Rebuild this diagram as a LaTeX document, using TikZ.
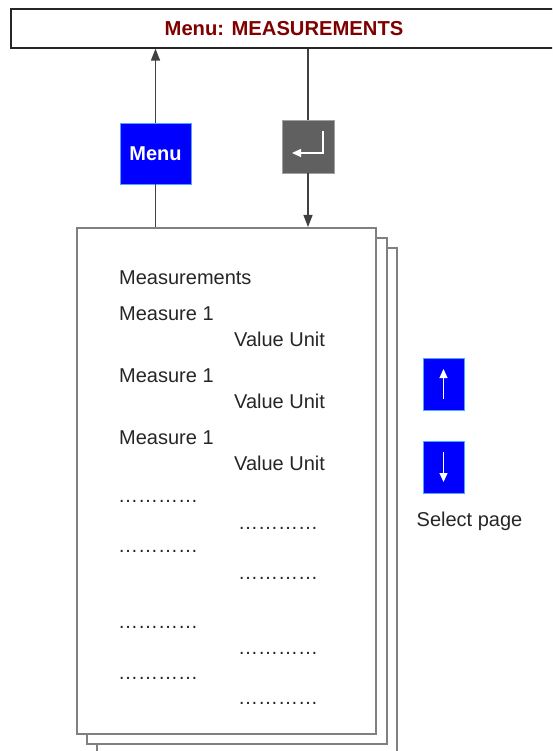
\documentclass[tikz,border=0pt]{standalone}
\usepackage{fontspec}
\setmainfont{Liberation Sans}
\usetikzlibrary{arrows.meta,calc}
\definecolor{titlered}{HTML}{800000}
\definecolor{keyblue}{HTML}{0000FF}
\definecolor{keyedge}{HTML}{4DA6FF}
\definecolor{keygray}{HTML}{606060}
\definecolor{keygrayedge}{HTML}{A0A0A0}
\definecolor{linegray}{HTML}{404040}
\definecolor{pagegray}{HTML}{808080}
\tikzset{
  bluekey/.style={draw=keyedge, fill=keyblue, line width=0.8pt, inner sep=0pt, text=white},
  graykey/.style={draw=keygrayedge, fill=keygray, line width=0.8pt, inner sep=0pt},
  conn/.style={draw=linegray, line width=1.3pt},
  connarr/.style={conn, -{Triangle[length=12pt,width=9pt]}},
  pagebox/.style={draw=pagegray, fill=white, line width=1.5pt, inner sep=0pt, anchor=north west},
  txt/.style={anchor=base west, inner sep=0pt, font=\fontsize{20}{24}\selectfont, text=black!85},
  keyarrow/.style={draw=white, line width=1.1pt, -{Triangle[length=9pt,width=8pt]}}
}
\begin{document}
\begin{tikzpicture}[x=1pt,y=-1pt]
\useasboundingbox (0,0) rectangle (552,751);
\clip (0,0) rectangle (552,751);
% title bar
\node[draw=black!85, line width=1.2pt, fill=white, minimum width=546pt, minimum height=39pt, inner sep=0pt,
      font=\bfseries\fontsize{20.2}{24}\selectfont, text=titlered] (title) at (284,28.5) {Menu: MEASUREMENTS};
% keys
\node[bluekey, minimum width=71pt, minimum height=61pt, font=\bfseries\fontsize{20}{24}\selectfont] (menu) at (155.5,153.5) {Menu};
\node[graykey, minimum width=52pt, minimum height=53pt] (enter) at (308,146.5) {};
\draw[draw=white, line width=1.1pt, -{Triangle[length=9pt,width=8pt]}]
  ($(enter.center)+(15,-15.5)$) -- ($(enter.center)+(15,6.5)$) -- ($(enter.center)+(-16,6.5)$);
% page stack
\node[pagebox, minimum width=300pt, minimum height=520pt] (page3) at (96,247) {};
\node[pagebox, minimum width=300pt, minimum height=506pt] (page2) at (86,237) {};
\node[pagebox, minimum width=299pt, minimum height=506pt] (page1) at (76,227) {};
% connectors
\draw[connarr] (menu.north) -- (menu.north |- title.south);
\draw[conn] (menu.south) -- (menu.south |- page1.north);
\draw[conn] (enter.north |- title.south) -- (enter.north);
\draw[connarr] (enter.south) -- (enter.south |- page1.north);
% page text
\node[txt] (t0) at (119,284) {Measurements};
\node[txt] (m1) at (119,320) {Measure 1};
\node[txt] (v1) at (234,346) {Value Unit};
\node[txt] (m2) at (119,382) {Measure 1};
\node[txt] (v2) at (234,408) {Value Unit};
\node[txt] (m3) at (119,444) {Measure 1};
\node[txt] (v3) at (234,470) {Value Unit};
\node[txt] (d1) at (118,502) {…………};
\node[txt] (d2) at (238,529) {…………};
\node[txt] (d3) at (118,552) {…………};
\node[txt] (d4) at (238,579) {…………};
\node[txt] (d5) at (118,628) {…………};
\node[txt] (d6) at (238,654) {…………};
\node[txt] (d7) at (118,679) {…………};
\node[txt] (d8) at (238,704) {…………};
% page keys
\node[bluekey, minimum width=41pt, minimum height=52pt] (up) at (443.5,384) {};
\node[bluekey, minimum width=41pt, minimum height=52pt] (down) at (443.5,467) {};
\draw[keyarrow] ($(up.center)+(0,15)$) -- ($(up.center)+(0,-15)$);
\draw[keyarrow] ($(down.center)+(0,-15)$) -- ($(down.center)+(0,15)$);
\node[txt, anchor=base] (sel) at (469.5,526) {Select page};
\end{tikzpicture}
\end{document}
